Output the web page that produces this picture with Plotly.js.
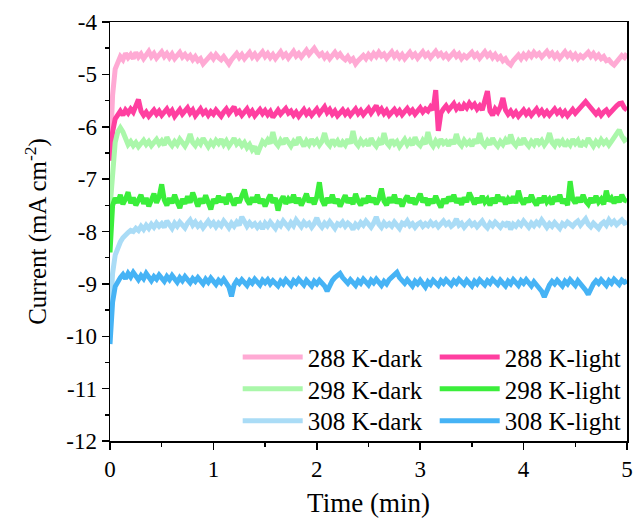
<!DOCTYPE html>
<html>
<head>
<meta charset="utf-8">
<script src="https://cdn.plot.ly/plotly-3.0.1.min.js"></script>
<style>html,body{margin:0;padding:0;background:#fff;}#chart{width:637px;height:523px;}</style>
</head>
<body>
<div id="chart"></div>
<script>
const time = [
0,0.025,0.05,0.075,0.1,0.125,0.15,0.175,0.2,0.225,
0.25,0.275,0.3,0.325,0.35,0.375,0.4,0.425,0.45,0.475,
0.5,0.525,0.55,0.575,0.6,0.625,0.65,0.675,0.7,0.725,
0.75,0.775,0.8,0.825,0.85,0.875,0.9,0.925,0.95,0.975,
1,1.025,1.05,1.075,1.1,1.125,1.15,1.175,1.2,1.225,
1.25,1.275,1.3,1.325,1.35,1.375,1.4,1.425,1.45,1.475,
1.5,1.525,1.55,1.575,1.6,1.625,1.65,1.675,1.7,1.725,
1.75,1.775,1.8,1.825,1.85,1.875,1.9,1.925,1.95,1.975,
2,2.025,2.05,2.075,2.1,2.125,2.15,2.175,2.2,2.225,
2.25,2.275,2.3,2.325,2.35,2.375,2.4,2.425,2.45,2.475,
2.5,2.525,2.55,2.575,2.6,2.625,2.65,2.675,2.7,2.725,
2.75,2.775,2.8,2.825,2.85,2.875,2.9,2.925,2.95,2.975,
3,3.025,3.05,3.075,3.1,3.125,3.15,3.175,3.2,3.225,
3.25,3.275,3.3,3.325,3.35,3.375,3.4,3.425,3.45,3.475,
3.5,3.525,3.55,3.575,3.6,3.625,3.65,3.675,3.7,3.725,
3.75,3.775,3.8,3.825,3.85,3.875,3.9,3.925,3.95,3.975,
4,4.025,4.05,4.075,4.1,4.125,4.15,4.175,4.2,4.225,
4.25,4.275,4.3,4.325,4.35,4.375,4.4,4.425,4.45,4.475,
4.5,4.525,4.55,4.575,4.6,4.625,4.65,4.675,4.7,4.725,
4.75,4.775,4.8,4.825,4.85,4.875,4.9,4.925,4.95,4.975,
5];

const dark288 = [
-6.60,-5.40,-4.90,-4.74,-4.66,-4.72,-4.60,-4.68,-4.62,-4.70,
-4.58,-4.67,-4.61,-4.70,-4.63,-4.56,-4.66,-4.60,-4.69,-4.62,
-4.57,-4.66,-4.60,-4.68,-4.61,-4.70,-4.63,-4.58,-4.67,-4.62,
-4.69,-4.64,-4.72,-4.66,-4.74,-4.70,-4.80,-4.73,-4.68,-4.63,
-4.70,-4.62,-4.68,-4.72,-4.66,-4.75,-4.80,-4.72,-4.66,-4.60,
-4.68,-4.62,-4.70,-4.64,-4.58,-4.67,-4.61,-4.69,-4.63,-4.57,
-4.66,-4.60,-4.68,-4.62,-4.70,-4.63,-4.57,-4.66,-4.61,-4.69,
-4.62,-4.56,-4.65,-4.60,-4.67,-4.58,-4.54,-4.62,-4.56,-4.50,
-4.58,-4.64,-4.60,-4.68,-4.62,-4.70,-4.64,-4.58,-4.66,-4.61,
-4.68,-4.72,-4.66,-4.74,-4.70,-4.80,-4.74,-4.68,-4.64,-4.70,
-4.62,-4.68,-4.60,-4.66,-4.58,-4.65,-4.61,-4.69,-4.63,-4.57,
-4.66,-4.60,-4.68,-4.62,-4.70,-4.64,-4.58,-4.66,-4.61,-4.69,
-4.63,-4.57,-4.65,-4.60,-4.68,-4.62,-4.56,-4.64,-4.60,-4.67,
-4.62,-4.69,-4.64,-4.58,-4.66,-4.61,-4.70,-4.64,-4.68,-4.62,
-4.58,-4.66,-4.61,-4.69,-4.63,-4.57,-4.65,-4.60,-4.68,-4.62,
-4.70,-4.66,-4.74,-4.70,-4.78,-4.82,-4.74,-4.68,-4.63,-4.70,
-4.62,-4.68,-4.60,-4.66,-4.58,-4.64,-4.60,-4.67,-4.61,-4.56,
-4.64,-4.59,-4.67,-4.61,-4.69,-4.63,-4.57,-4.65,-4.60,-4.68,
-4.62,-4.70,-4.64,-4.68,-4.62,-4.58,-4.66,-4.60,-4.68,-4.63,
-4.70,-4.66,-4.74,-4.72,-4.78,-4.82,-4.76,-4.70,-4.64,-4.68,
-4.60];

const light288 = [
-6.65,-6.10,-5.85,-5.76,-5.70,-5.78,-5.68,-5.74,-5.66,-5.72,
-5.62,-5.48,-5.70,-5.78,-5.72,-5.80,-5.74,-5.68,-5.76,-5.70,
-5.78,-5.71,-5.66,-5.75,-5.69,-5.80,-5.73,-5.67,-5.76,-5.70,
-5.64,-5.74,-5.68,-5.79,-5.72,-5.66,-5.75,-5.70,-5.78,-5.71,
-5.76,-5.68,-5.74,-5.80,-5.72,-5.66,-5.75,-5.69,-5.62,-5.74,
-5.70,-5.78,-5.72,-5.66,-5.76,-5.70,-5.79,-5.73,-5.67,-5.75,
-5.69,-5.77,-5.71,-5.82,-5.74,-5.68,-5.76,-5.70,-5.65,-5.74,
-5.70,-5.78,-5.72,-5.80,-5.73,-5.67,-5.76,-5.70,-5.78,-5.71,
-5.66,-5.75,-5.69,-5.62,-5.73,-5.67,-5.76,-5.70,-5.79,-5.72,
-5.68,-5.76,-5.70,-5.78,-5.72,-5.66,-5.75,-5.69,-5.77,-5.71,
-5.65,-5.74,-5.68,-5.60,-5.72,-5.66,-5.75,-5.69,-5.78,-5.71,
-5.67,-5.75,-5.69,-5.77,-5.71,-5.65,-5.73,-5.68,-5.76,-5.70,
-5.64,-5.72,-5.66,-5.70,-5.62,-5.68,-5.30,-6.08,-5.74,-5.66,
-5.60,-5.68,-5.62,-5.56,-5.66,-5.60,-5.68,-5.58,-5.64,-5.55,
-5.62,-5.57,-5.66,-5.60,-5.68,-5.50,-5.32,-5.70,-5.78,-5.66,
-5.72,-5.62,-5.45,-5.68,-5.76,-5.70,-5.78,-5.72,-5.80,-5.74,
-5.68,-5.76,-5.70,-5.78,-5.72,-5.66,-5.75,-5.69,-5.77,-5.71,
-5.78,-5.72,-5.66,-5.74,-5.69,-5.77,-5.71,-5.79,-5.73,-5.67,
-5.74,-5.68,-5.62,-5.56,-5.52,-5.58,-5.64,-5.70,-5.76,-5.70,
-5.78,-5.72,-5.68,-5.76,-5.70,-5.64,-5.60,-5.56,-5.55,-5.64,
-5.68];

const dark298 = [
-7.55,-6.80,-6.30,-6.10,-6.02,-6.10,-6.25,-6.34,-6.28,-6.36,
-6.30,-6.38,-6.32,-6.26,-6.34,-6.28,-6.36,-6.30,-6.24,-6.33,
-6.27,-6.35,-6.20,-6.30,-6.36,-6.28,-6.34,-6.24,-6.31,-6.37,
-6.28,-6.14,-6.30,-6.36,-6.27,-6.33,-6.22,-6.31,-6.38,-6.29,
-6.35,-6.26,-6.32,-6.24,-6.34,-6.27,-6.37,-6.30,-6.22,-6.33,
-6.28,-6.36,-6.30,-6.40,-6.34,-6.44,-6.38,-6.52,-6.36,-6.28,
-6.33,-6.25,-6.32,-6.10,-6.30,-6.36,-6.26,-6.33,-6.22,-6.31,
-6.37,-6.28,-6.34,-6.20,-6.31,-6.37,-6.27,-6.34,-6.24,-6.32,
-6.26,-6.35,-6.28,-6.12,-6.30,-6.36,-6.25,-6.33,-6.27,-6.37,
-6.29,-6.35,-6.24,-6.32,-6.08,-6.30,-6.36,-6.26,-6.33,-6.28,
-6.36,-6.22,-6.31,-6.37,-6.27,-6.34,-6.12,-6.30,-6.36,-6.25,
-6.33,-6.28,-6.38,-6.30,-6.24,-6.34,-6.27,-6.35,-6.20,-6.31,
-6.36,-6.26,-6.33,-6.10,-6.30,-6.37,-6.27,-6.34,-6.24,-6.32,
-6.28,-6.36,-6.25,-6.33,-6.14,-6.30,-6.36,-6.26,-6.33,-6.28,
-6.37,-6.24,-6.32,-6.12,-6.30,-6.36,-6.27,-6.34,-6.22,-6.31,
-6.37,-6.28,-6.34,-6.25,-6.32,-6.15,-6.30,-6.36,-6.27,-6.34,
-6.22,-6.31,-6.37,-6.28,-6.34,-6.24,-6.32,-6.26,-6.35,-6.28,
-6.12,-6.30,-6.36,-6.25,-6.33,-6.27,-6.37,-6.29,-6.35,-6.24,
-6.32,-6.26,-6.38,-6.30,-6.34,-6.22,-6.31,-6.37,-6.28,-6.34,
-6.25,-6.32,-6.27,-6.35,-6.28,-6.20,-6.12,-6.06,-6.18,-6.26,
-6.22];

const light298 = [
-8.40,-7.50,-7.36,-7.45,-7.30,-7.48,-7.38,-7.25,-7.46,-7.35,
-7.50,-7.40,-7.30,-7.47,-7.36,-7.52,-7.42,-7.28,-7.45,-7.34,
-7.10,-7.40,-7.50,-7.36,-7.46,-7.30,-7.44,-7.55,-7.38,-7.47,
-7.33,-7.45,-7.26,-7.42,-7.52,-7.37,-7.46,-7.31,-7.43,-7.58,
-7.38,-7.46,-7.32,-7.44,-7.35,-7.48,-7.28,-7.42,-7.50,-7.36,
-7.45,-7.32,-7.20,-7.40,-7.48,-7.35,-7.44,-7.30,-7.46,-7.38,
-7.52,-7.40,-7.30,-7.45,-7.36,-7.60,-7.42,-7.33,-7.47,-7.38,
-7.44,-7.30,-7.46,-7.36,-7.50,-7.40,-7.28,-7.44,-7.36,-7.48,
-7.34,-7.06,-7.40,-7.50,-7.36,-7.45,-7.30,-7.46,-7.38,-7.52,
-7.40,-7.31,-7.45,-7.36,-7.48,-7.28,-7.42,-7.50,-7.37,-7.46,
-7.32,-7.44,-7.36,-7.48,-7.38,-7.18,-7.42,-7.50,-7.35,-7.45,
-7.30,-7.46,-7.38,-7.52,-7.40,-7.32,-7.45,-7.36,-7.48,-7.40,
-7.28,-7.44,-7.36,-7.50,-7.38,-7.46,-7.32,-7.44,-7.54,-7.38,
-7.46,-7.34,-7.42,-7.30,-7.45,-7.37,-7.49,-7.35,-7.44,-7.26,
-7.40,-7.48,-7.36,-7.45,-7.32,-7.44,-7.38,-7.50,-7.36,-7.46,
-7.30,-7.42,-7.35,-7.48,-7.38,-7.45,-7.33,-7.46,-7.22,-7.40,
-7.48,-7.36,-7.44,-7.30,-7.42,-7.50,-7.36,-7.45,-7.32,-7.44,
-7.38,-7.48,-7.34,-7.42,-7.30,-7.46,-7.38,-7.50,-7.04,-7.38,
-7.46,-7.35,-7.44,-7.30,-7.42,-7.48,-7.36,-7.45,-7.32,-7.44,
-7.38,-7.48,-7.22,-7.42,-7.36,-7.46,-7.34,-7.44,-7.30,-7.40,
-7.42];

const dark308 = [
-9.65,-8.80,-8.45,-8.30,-8.20,-8.12,-8.06,-8.02,-7.98,-8.00,
-7.94,-7.98,-7.90,-7.96,-7.88,-7.94,-7.86,-7.92,-7.84,-7.90,
-7.85,-7.92,-7.80,-7.88,-7.94,-7.84,-7.90,-7.82,-7.88,-7.93,
-7.84,-7.78,-7.88,-7.82,-7.90,-7.85,-7.93,-7.86,-7.80,-7.88,
-7.83,-7.91,-7.84,-7.89,-7.80,-7.86,-7.93,-7.84,-7.90,-7.82,
-7.88,-7.72,-7.84,-7.90,-7.83,-7.89,-7.85,-7.92,-7.86,-7.95,
-7.84,-7.90,-7.82,-7.88,-7.94,-7.84,-7.89,-7.80,-7.86,-7.92,
-7.83,-7.89,-7.78,-7.86,-7.91,-7.82,-7.88,-7.84,-7.92,-7.85,
-7.74,-7.86,-7.92,-7.84,-7.89,-7.81,-7.86,-7.94,-7.85,-7.88,
-7.82,-7.90,-7.84,-7.88,-7.96,-7.86,-7.91,-7.83,-7.88,-7.80,
-7.86,-7.92,-7.84,-7.72,-7.86,-7.92,-7.83,-7.89,-7.85,-7.90,
-7.82,-7.88,-7.94,-7.84,-7.87,-7.80,-7.89,-7.85,-7.92,-7.86,
-7.83,-7.90,-7.85,-7.89,-7.82,-7.88,-7.84,-7.91,-7.86,-7.80,
-7.87,-7.83,-7.90,-7.86,-7.76,-7.88,-7.84,-7.92,-7.86,-7.81,
-7.88,-7.84,-7.91,-7.85,-7.80,-7.88,-7.93,-7.84,-7.89,-7.82,
-7.87,-7.92,-7.85,-7.88,-7.82,-7.96,-7.86,-7.90,-7.83,-7.88,
-7.80,-7.86,-7.92,-7.84,-7.89,-7.82,-7.87,-7.78,-7.86,-7.92,
-7.85,-7.90,-7.83,-7.88,-7.94,-7.85,-7.89,-7.82,-7.86,-7.90,
-7.84,-7.80,-7.88,-7.82,-7.76,-7.86,-7.91,-7.84,-7.88,-7.94,
-7.86,-7.82,-7.88,-7.78,-7.85,-7.80,-7.87,-7.82,-7.78,-7.84,
-7.82];

const light308 = [
-10.15,-9.35,-9.05,-8.95,-8.88,-8.82,-8.90,-8.80,-8.87,-8.78,
-8.86,-8.92,-8.84,-8.90,-8.80,-8.88,-8.94,-8.86,-8.91,-8.83,
-8.89,-8.95,-8.86,-8.92,-8.84,-8.91,-8.97,-8.88,-8.94,-8.86,
-8.92,-8.98,-8.90,-8.95,-8.88,-8.94,-9.00,-8.91,-8.97,-8.89,
-8.95,-9.01,-8.93,-8.98,-8.91,-8.99,-9.06,-9.24,-9.02,-8.94,
-8.99,-8.92,-8.98,-9.03,-8.94,-8.99,-8.91,-8.97,-9.02,-8.93,
-8.98,-8.92,-9.00,-8.94,-8.99,-9.04,-8.95,-9.00,-8.92,-8.98,
-9.03,-8.94,-8.99,-8.91,-8.97,-9.02,-8.93,-8.98,-9.04,-8.95,
-9.00,-8.93,-8.98,-9.04,-9.14,-9.02,-8.94,-8.88,-8.84,-8.80,
-8.88,-8.94,-8.99,-8.92,-8.98,-9.03,-8.94,-8.99,-8.91,-8.97,
-9.02,-8.93,-8.98,-8.91,-8.97,-9.03,-8.95,-9.00,-8.92,-8.88,
-8.84,-8.78,-8.88,-8.94,-8.99,-8.92,-8.98,-9.04,-8.95,-9.00,
-8.93,-8.98,-9.06,-8.96,-9.01,-8.93,-8.98,-9.03,-8.94,-8.99,
-8.92,-8.97,-9.02,-8.94,-8.99,-8.91,-8.96,-9.01,-8.93,-8.98,
-9.04,-8.95,-9.00,-8.92,-8.97,-9.02,-8.94,-8.99,-8.91,-8.96,
-9.01,-8.93,-8.98,-9.04,-8.95,-9.00,-8.92,-8.97,-9.03,-8.94,
-8.99,-8.92,-8.98,-9.04,-8.96,-9.02,-9.08,-9.14,-9.25,-9.10,
-9.02,-8.95,-9.00,-8.93,-8.98,-9.04,-8.95,-9.00,-8.92,-8.97,
-9.03,-8.94,-8.99,-9.05,-9.12,-9.20,-9.08,-9.00,-8.94,-8.99,
-8.92,-8.97,-9.03,-8.94,-8.99,-8.91,-8.96,-9.01,-8.93,-8.97,
-8.94];

const seriesNames = ['288 K-dark','288 K-light','298 K-dark','298 K-light','308 K-dark','308 K-light'];
const seriesColors = ['#ffaad4','#ff3fa0','#aaf7aa','#3bee3b','#aadcf6','#46b3f5'];
const seriesData = [dark288, light288, dark298, light298, dark308, light308];
const legendIds = ['legend','legend','legend2','legend2','legend3','legend3'];

const yTickVals = [-12,-11,-10,-9,-8,-7,-6,-5,-4];
const yTickText = ['-12','-11','-10','-9','-8','-7','-6','-5','-4'];
const xTickVals = [0,1,2,3,4,5];
const xTickText = ['0','1','2','3','4','5'];

const traces = seriesData.map((d, i) => ({
  type: 'scatter', mode: 'lines', x: time, y: d, name: seriesNames[i],
  line: {color: seriesColors[i], width: 5},
  legend: legendIds[i]
}));

const font = 'Liberation Serif, Times New Roman, serif';
function leg(yy) {
  return {orientation: 'h', x: 0.247, xanchor: 'left', y: yy, yanchor: 'middle',
    bgcolor: 'rgba(0,0,0,0)', font: {family: font, size: 25, color: '#000'},
    entrywidth: 122, entrywidthmode: 'pixels', itemwidth: 60};
}

const layout = {
  width: 637, height: 523,
  margin: {l: 110, r: 10, t: 22, b: 82, autoexpand: false},
  paper_bgcolor: '#fff', plot_bgcolor: '#fff',
  font: {family: font, color: '#000'},
  showlegend: true,
  legend: leg(0.2),
  legend2: leg(0.124),
  legend3: leg(0.048),
  xaxis: {
    range: [0, 5], tickvals: xTickVals, ticktext: xTickText,
    showgrid: false, zeroline: false, showline: true, linecolor: '#000', linewidth: 1.5,
    mirror: true, ticks: 'outside', ticklen: 7, tickwidth: 1.5, tickcolor: '#000',
    minor: {dtick: 0.5, ticks: 'outside', ticklen: 4, tickwidth: 1.5, tickcolor: '#000', showgrid: false},
    tickfont: {family: font, size: 23, color: '#000'},
    title: {text: 'Time (min)', font: {family: font, size: 27, color: '#000'}, standoff: 12}
  },
  yaxis: {
    range: [-12, -4], tickvals: yTickVals, ticktext: yTickText,
    showgrid: false, zeroline: false, showline: true, linecolor: '#000', linewidth: 1.5,
    mirror: true, ticks: 'outside', ticklen: 7, tickwidth: 1.5, tickcolor: '#000',
    minor: {dtick: 0.5, ticks: 'outside', ticklen: 4, tickwidth: 1.5, tickcolor: '#000', showgrid: false},
    tickfont: {family: font, size: 23, color: '#000'},
    title: {text: 'Current (mA cm<sup>-2</sup>)', font: {family: font, size: 25, color: '#000'}, standoff: 12}
  }
};

Plotly.newPlot('chart', traces, layout, {displayModeBar: false, staticPlot: true});
</script>
</body>
</html>
